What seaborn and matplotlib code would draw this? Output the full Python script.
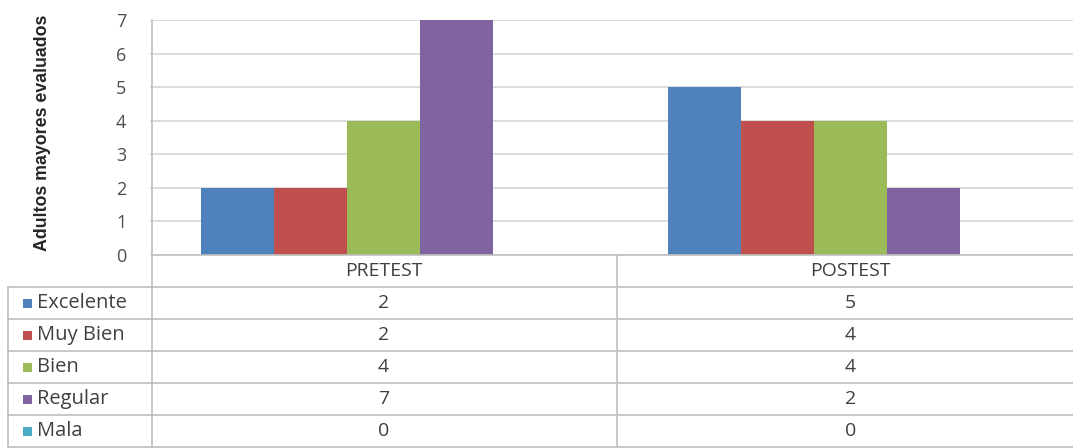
import matplotlib
matplotlib.use("Agg")
import matplotlib.pyplot as plt
import matplotlib.transforms as mtransforms
from matplotlib.lines import Line2D
from matplotlib.patches import Rectangle
import seaborn as sns
import pandas as pd

categorias = ["PRETEST", "POSTEST"]
niveles = ["Excelente", "Muy Bien", "Bien", "Regular", "Mala"]
excelente = [2, 5]
muy_bien = [2, 4]
bien = [4, 4]
regular = [7, 2]
mala = [0, 0]
colores = ["#4F81BD", "#C0504D", "#9BBB59", "#8064A2", "#4BACC6"]
y_ticks = [0, 1, 2, 3, 4, 5, 6, 7]
y_label = "Adultos mayores evaluados"

series = [excelente, muy_bien, bien, regular, mala]
rows = []
for nivel, vals in zip(niveles, series):
    for cat, v in zip(categorias, vals):
        rows.append({"Prueba": cat, "Nivel": nivel, "valor": v})
df = pd.DataFrame(rows)

sns.set_theme(style="white")
plt.rcParams["font.family"] = ["Open Sans", "DejaVu Sans"]

W, H = 1073, 448
fig = plt.figure(figsize=(W / 100, H / 100), dpi=100)
fig.patch.set_facecolor("white")

def fx(px):
    return px / W

def fy(py):
    return 1 - py / H

left_px, right_px, top_px, zero_px = 150, 1084, 20, 255
ax = fig.add_axes([fx(left_px), fy(zero_px), (right_px - left_px) / W, (zero_px - top_px) / H])

sns.barplot(data=df, x="Prueba", y="valor", hue="Nivel", order=categorias,
            hue_order=niveles, palette=colores, width=0.78, gap=0,
            saturation=1, legend=False, ax=ax, errorbar=None, linewidth=0)

ax.set_ylim(0, 7)
ax.set_xlim(-0.5, 1.5)
ax.set_yticks(y_ticks)
ax.set_yticklabels([str(t) for t in y_ticks], color="#4d4d4d", fontsize=13)
ax.tick_params(axis="y", length=0, pad=17)
ax.set_xticks([])
ax.set_xlabel("")
ax.set_ylabel("")
ax.yaxis.grid(True, color="#d9d9d9", linewidth=1.3)
ax.set_axisbelow(True)
for s in ax.spines.values():
    s.set_visible(False)

fig.text(fx(43), fy(133), y_label, rotation=90, ha="center", va="center",
         fontsize=12.8, fontweight="bold", color="#262626",
         family=["Liberation Sans Narrow", "Liberation Sans", "DejaVu Sans"])

# table
line_c = "#bfbfbf"
tr = mtransforms.blended_transform_factory(ax.transData, fig.transFigure)
row_tops = [287, 319, 351, 383, 415, 447]

def hline(x0, x1, py):
    fig.add_artist(Line2D([fx(x0), fx(x1)], [fy(py), fy(py)], color=line_c, lw=1.2))

def vline(px, y0, y1):
    fig.add_artist(Line2D([fx(px), fx(px)], [fy(y0), fy(y1)], color=line_c, lw=1.2))

for py in row_tops:
    hline(8, W, py)
hline(152, W, zero_px)
vline(8, 287, 447)
vline(152, top_px, 447)
vline(617, zero_px, 447)

text_c = "#404040"
fs = 14
for i, cat in enumerate(categorias):
    ax.text(i, fy(271), cat, transform=tr, ha="center", va="center",
            fontsize=fs, color=text_c)

for r, (nivel, vals, col) in enumerate(zip(niveles, series, colores)):
    cy = (row_tops[r] + row_tops[r + 1]) / 2
    fig.add_artist(Rectangle((fx(23), fy(cy + 4.5)), 9 / W, 9 / H,
                             transform=fig.transFigure, facecolor=col,
                             edgecolor="none"))
    fig.text(fx(37), fy(cy), nivel, ha="left", va="center", fontsize=14.5, color=text_c)
    for i, v in enumerate(vals):
        ax.text(i, fy(cy), str(v), transform=tr, ha="center", va="center",
                fontsize=fs, color=text_c)

fig.savefig("out.png", dpi=100, facecolor="white")
